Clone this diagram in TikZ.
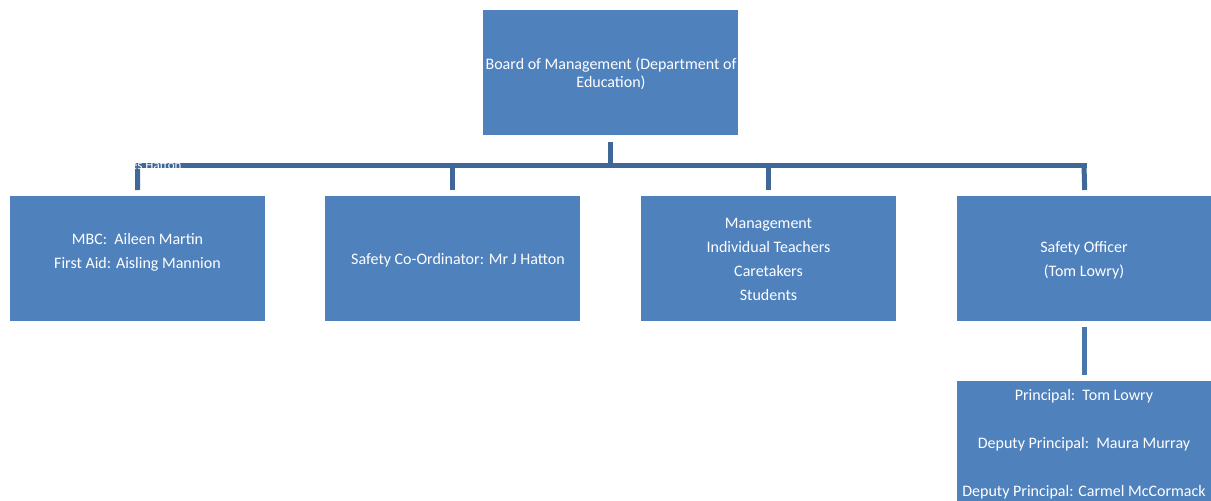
\documentclass[tikz,border=0pt]{standalone}
\usepackage{fontspec}
\setmainfont{Carlito}
\definecolor{boxblue}{HTML}{4F81BD}
\definecolor{connblue}{HTML}{3F6797}
\definecolor{connblue2}{HTML}{4877AE}
\begin{document}
\begin{tikzpicture}[x=1pt,y=-1pt,
  orgbox/.style={rectangle,fill=boxblue,draw=none,minimum width=255pt,minimum height=125pt,inner sep=0pt,anchor=north west},
  lbl/.style={text=white,font=\fontsize{16}{24}\selectfont,align=center,inner sep=0pt},
  conn/.style={draw=connblue,line width=5pt},
  conn2/.style={draw=connblue2,line width=5pt}]
\useasboundingbox (0,0) rectangle (1211,501);
\clip (0,0) rectangle (1211,501);
% boxes
\node[orgbox] (top) at (483,10) {};
\node[orgbox] (b1) at (10,196) {};
\node[orgbox] (b2) at (325,196) {};
\node[orgbox] (b3) at (641,196) {};
\node[orgbox] (b4) at (957,196) {};
\node[orgbox,minimum height=130pt] (b5) at (957,381) {};
% texts
\node[lbl,font=\fontsize{16}{18}\selectfont] (ttop) at (611,74) {Board of Management (Department of\\Education)};
\node[lbl] (t1) at (137.5,252) {MBC:\ \ Aileen Martin\\First Aid: Aisling Mannion};
\node[lbl] (t2) at (458,260) {Safety Co-Ordinator: Mr J Hatton};
\node[lbl] (t3) at (768.5,259) {Management\\Individual Teachers\\Caretakers\\Students};
\node[lbl] (t4) at (1084,260) {Safety Officer\\(Tom Lowry)};
\node[lbl,anchor=north] (t5) at (1084,389) {Principal:\ \ Tom Lowry\\[24pt]Deputy Principal:\ \ Maura Murray\\[24pt]Deputy Principal: Carmel McCormack};
% connectors
\coordinate (barl) at (137.5,165.5);
\coordinate (barr) at (1084,165.5);
\draw[conn] ([yshift=-7pt]top.south) -- (top.south |- barl);
\draw[conn,line cap=rect] (barl) -- (barr);
\draw[conn] (barl) -- ([yshift=6pt]b1.north);
\draw[conn] (b2.north |- barl) -- ([yshift=6pt]b2.north);
\draw[conn] (b3.north |- barl) -- ([yshift=6pt]b3.north);
\draw[conn] (barr) -- ([yshift=6pt]b4.north);
\draw[conn2] ([yshift=-6pt]b4.south) -- ([yshift=6pt]b5.north);
% stray label partly visible over the bar
\node[text=white,font=\fontsize{13}{15}\selectfont,anchor=base west,inner sep=0pt] (jh) at (110,169.5) {James Hatton};
\end{tikzpicture}
\end{document}
